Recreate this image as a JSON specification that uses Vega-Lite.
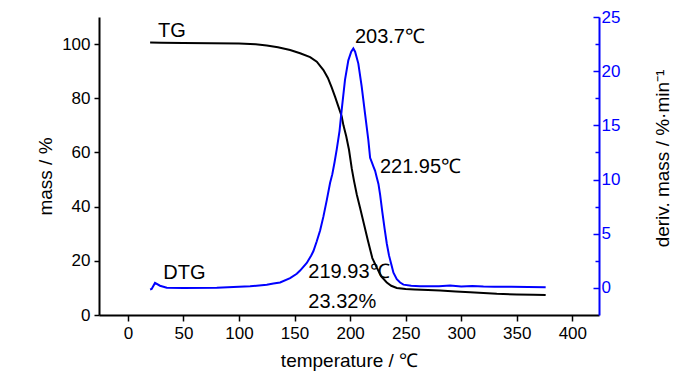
{
  "$schema": "https://vega.github.io/schema/vega-lite/v6.json",
  "width": 500,
  "height": 298,
  "autosize": {"type": "none"},
  "padding": {"left": 99, "top": 17, "right": 101, "bottom": 59},
  "background": "white",
  "config": {
    "view": {"stroke": null},
    "font": "Liberation Sans",
    "axis": {"grid": false, "labelFont": "Liberation Sans", "titleFont": "Liberation Sans", "labelFontSize": 17, "titleFontSize": 19, "titleFontWeight": "normal", "domainWidth": 2, "tickWidth": 1.5, "labelFlush": false, "labelOverlap": false}
  },
  "datasets": {
    "tg": [
      {"t": 20, "mass": 100.6}, {"t": 30, "mass": 100.5}, {"t": 50, "mass": 100.4}, {"t": 75, "mass": 100.3},
      {"t": 100, "mass": 100.2}, {"t": 115, "mass": 99.9}, {"t": 125, "mass": 99.5}, {"t": 135, "mass": 98.8},
      {"t": 146, "mass": 97.8}, {"t": 155, "mass": 96.6}, {"t": 164, "mass": 95.2}, {"t": 170, "mass": 93.5},
      {"t": 176, "mass": 90.4}, {"t": 180, "mass": 87.5}, {"t": 183.4, "mass": 84}, {"t": 186.5, "mass": 80.5},
      {"t": 189.4, "mass": 77}, {"t": 192.4, "mass": 73.4}, {"t": 194, "mass": 70}, {"t": 196.5, "mass": 66},
      {"t": 199, "mass": 61}, {"t": 201.5, "mass": 54}, {"t": 203.5, "mass": 49.5}, {"t": 206, "mass": 44.5},
      {"t": 209, "mass": 39.5}, {"t": 212.5, "mass": 33.5}, {"t": 216, "mass": 27.5}, {"t": 220, "mass": 21},
      {"t": 224, "mass": 17.5}, {"t": 228, "mass": 14.2}, {"t": 233, "mass": 12}, {"t": 237, "mass": 10.8},
      {"t": 242, "mass": 10.0}, {"t": 250, "mass": 9.6}, {"t": 258, "mass": 9.4}, {"t": 270, "mass": 9.2},
      {"t": 281, "mass": 9.0}, {"t": 295, "mass": 8.7}, {"t": 308, "mass": 8.4}, {"t": 320, "mass": 8.1},
      {"t": 332, "mass": 7.8}, {"t": 350, "mass": 7.6}, {"t": 365, "mass": 7.5}, {"t": 376, "mass": 7.4}
    ],
    "dtg": [
      {"t": 20, "d": -0.15}, {"t": 21.4, "d": -0.1}, {"t": 24.4, "d": 0.46}, {"t": 28.9, "d": 0.2},
      {"t": 35, "d": 0.02}, {"t": 50, "d": 0}, {"t": 80, "d": 0.02}, {"t": 100, "d": 0.1},
      {"t": 110, "d": 0.15}, {"t": 125, "d": 0.3}, {"t": 131, "d": 0.4}, {"t": 137, "d": 0.5},
      {"t": 146, "d": 0.9}, {"t": 152, "d": 1.3}, {"t": 155, "d": 1.6}, {"t": 161, "d": 2.3},
      {"t": 165, "d": 3.0}, {"t": 167, "d": 3.4}, {"t": 170, "d": 4.3}, {"t": 173, "d": 5.3},
      {"t": 176, "d": 6.6}, {"t": 179, "d": 8.1}, {"t": 182, "d": 9.7}, {"t": 184, "d": 10.5},
      {"t": 186, "d": 11.6}, {"t": 188, "d": 12.8}, {"t": 190.5, "d": 14.5}, {"t": 192.4, "d": 16.4},
      {"t": 195.4, "d": 19.2}, {"t": 198.4, "d": 21.0}, {"t": 201, "d": 21.8}, {"t": 202.9, "d": 22.1},
      {"t": 204.5, "d": 21.8}, {"t": 207.4, "d": 20.7}, {"t": 210.4, "d": 18.6}, {"t": 213.4, "d": 16.1},
      {"t": 216.4, "d": 13.65}, {"t": 218, "d": 12.0}, {"t": 219.5, "d": 11.6}, {"t": 221, "d": 11.2},
      {"t": 222.5, "d": 10.8}, {"t": 224, "d": 10.2}, {"t": 225.5, "d": 9.6}, {"t": 227, "d": 8.6},
      {"t": 229, "d": 7.0}, {"t": 231, "d": 5.5}, {"t": 233, "d": 4.1}, {"t": 235, "d": 3.0},
      {"t": 237, "d": 2.2}, {"t": 239, "d": 1.4}, {"t": 242, "d": 0.8}, {"t": 245, "d": 0.5},
      {"t": 248, "d": 0.3}, {"t": 255, "d": 0.2}, {"t": 263, "d": 0.15}, {"t": 280, "d": 0.15},
      {"t": 290, "d": 0.22}, {"t": 300, "d": 0.12}, {"t": 310, "d": 0.18}, {"t": 320, "d": 0.12},
      {"t": 330, "d": 0.1}, {"t": 345, "d": 0.1}, {"t": 360, "d": 0.08}, {"t": 376, "d": 0.05}
    ],
    "notes": [
      {"label": "TG", "t": 27.1, "mass": 102.7},
      {"label": "203.7℃", "t": 204.3, "mass": 100.5},
      {"label": "221.95℃", "t": 226.8, "mass": 52.3},
      {"label": "219.93℃", "t": 162.4, "mass": 13.5},
      {"label": "23.32%", "t": 162.4, "mass": 2.5},
      {"label": "DTG", "t": 31.9, "mass": 13.2}
    ]
  },
  "layer": [
    {
      "layer": [
        {
          "data": {"name": "tg"},
          "mark": {"type": "line", "color": "black", "strokeWidth": 2, "clip": true},
          "encoding": {
            "x": {
              "field": "t", "type": "quantitative",
              "scale": {"domain": [-26, 424], "nice": false, "zero": false},
              "axis": {
                "orient": "bottom",
                "values": [0, 25, 50, 75, 100, 125, 150, 175, 200, 225, 250, 275, 300, 325, 350, 375, 400],
                "labelExpr": "datum.value % 50 === 0 ? datum.label : ''",
                "tickSize": {"condition": {"test": "datum.value % 50 === 0", "value": 6}, "value": 3},
                "labelPadding": 4,
                "domainColor": "black", "tickColor": "black", "labelColor": "black", "titleColor": "black",
                "title": "temperature / ℃",
                "titleY": 45, "titleBaseline": "middle"
              }
            },
            "y": {
              "field": "mass", "type": "quantitative",
              "scale": {"domain": [0, 110], "nice": false, "zero": false},
              "axis": {
                "orient": "left",
                "values": [0, 10, 20, 30, 40, 50, 60, 70, 80, 90, 100],
                "labelExpr": "datum.value % 20 === 0 ? datum.label : ''",
                "tickSize": {"condition": {"test": "datum.value % 20 === 0", "value": 5}, "value": 3},
                "labelPadding": 4,
                "domainColor": "black", "tickColor": "black", "labelColor": "black", "titleColor": "black",
                "title": "mass / %",
                "titleAngle": 270, "titleX": -54, "titleY": 159, "titleAlign": "center", "titleBaseline": "middle"
              }
            }
          }
        },
        {
          "data": {"name": "notes"},
          "mark": {"type": "text", "align": "left", "baseline": "alphabetic", "fontSize": 20, "font": "Liberation Sans", "color": "black"},
          "encoding": {
            "x": {"field": "t", "type": "quantitative"},
            "y": {"field": "mass", "type": "quantitative"},
            "text": {"field": "label"}
          }
        }
      ]
    },
    {
      "data": {"name": "dtg"},
      "mark": {"type": "line", "color": "#0000ff", "strokeWidth": 2, "clip": true},
      "encoding": {
        "x": {"field": "t", "type": "quantitative"},
        "y": {
          "field": "d", "type": "quantitative",
          "scale": {"domain": [-2.5, 25], "nice": false, "zero": false},
          "axis": {
            "orient": "right",
            "values": [0, 2.5, 5, 7.5, 10, 12.5, 15, 17.5, 20, 22.5, 25],
            "labelExpr": "datum.value % 5 === 0 ? datum.label : ''",
            "tickSize": {"condition": {"test": "datum.value % 5 === 0", "value": -6}, "value": -4},
            "labelPadding": 8,
            "domainColor": "#0000ff", "tickColor": "#0000ff", "labelColor": "#0000ff", "titleColor": "black",
            "title": "deriv. mass / %·min⁻¹",
            "titleAngle": 270, "titleX": 63, "titleY": 141, "titleAlign": "center", "titleBaseline": "middle"
          }
        }
      }
    }
  ],
  "resolve": {"scale": {"y": "independent"}}
}
